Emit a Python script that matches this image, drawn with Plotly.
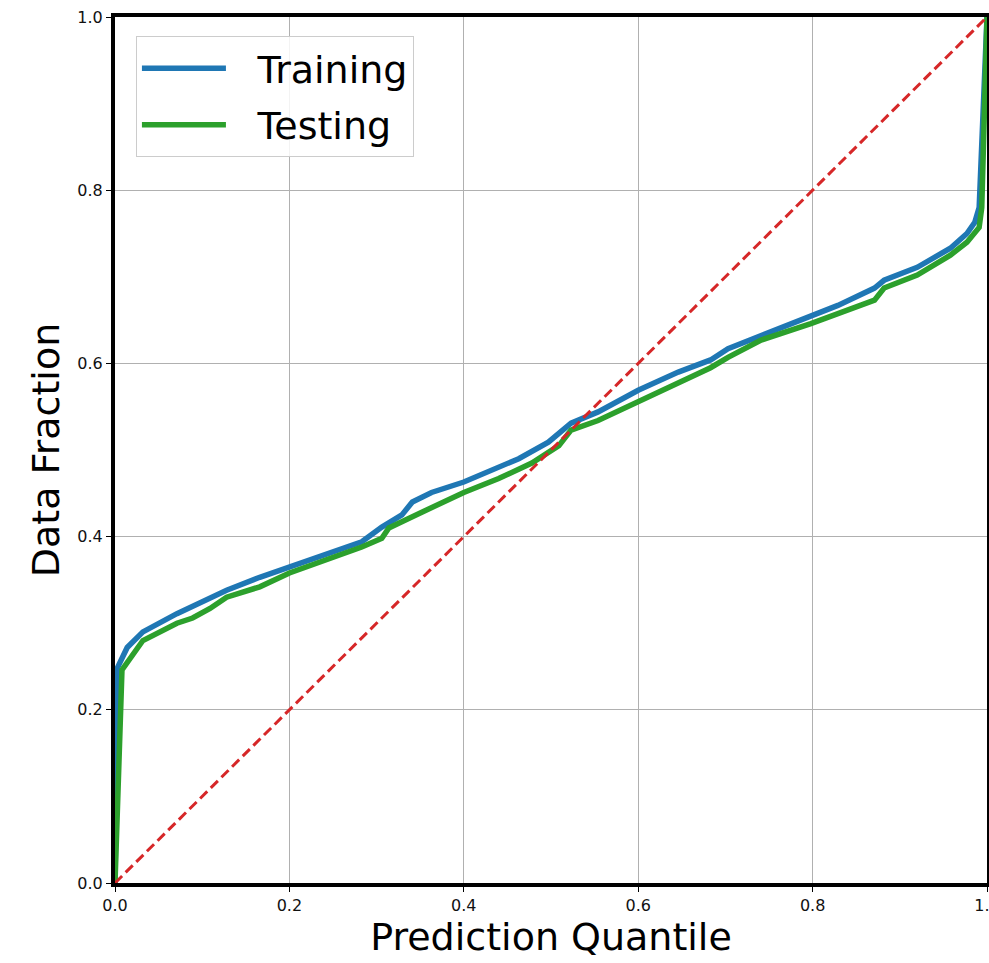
import plotly.graph_objects as go

# Cumulative fraction of data vs. predicted quantile
train_x = [0.0, 0.003, 0.014, 0.032, 0.071, 0.109, 0.128, 0.166, 0.200, 0.242,
           0.283, 0.306, 0.329, 0.341, 0.363, 0.400, 0.440, 0.463, 0.497, 0.523,
           0.554, 0.600, 0.646, 0.683, 0.703, 0.741, 0.798, 0.829, 0.871, 0.882,
           0.920, 0.958, 0.977, 0.986, 0.991, 1.0]
train_y = [0.0, 0.249, 0.272, 0.290, 0.311, 0.329, 0.338, 0.353, 0.365, 0.379,
           0.394, 0.411, 0.425, 0.440, 0.451, 0.463, 0.480, 0.490, 0.509, 0.531,
           0.544, 0.569, 0.590, 0.604, 0.617, 0.632, 0.655, 0.667, 0.687, 0.696,
           0.711, 0.733, 0.750, 0.763, 0.780, 1.0]

test_x = [0.0, 0.008, 0.032, 0.071, 0.089, 0.109, 0.128, 0.146, 0.166, 0.200,
          0.242, 0.283, 0.306, 0.314, 0.341, 0.363, 0.400, 0.440, 0.478, 0.509,
          0.523, 0.554, 0.592, 0.600, 0.611, 0.683, 0.703, 0.741, 0.798, 0.829,
          0.871, 0.882, 0.920, 0.958, 0.977, 0.991, 0.994, 1.0]
test_y = [0.0, 0.246, 0.280, 0.300, 0.306, 0.317, 0.330, 0.335, 0.342, 0.358,
          0.373, 0.388, 0.398, 0.410, 0.423, 0.434, 0.451, 0.467, 0.485, 0.505,
          0.523, 0.534, 0.552, 0.557, 0.561, 0.595, 0.607, 0.627, 0.646, 0.658,
          0.673, 0.687, 0.702, 0.725, 0.740, 0.757, 0.780, 1.0]

ideal = [0.0, 1.0]
tick_vals = [0.0, 0.2, 0.4, 0.6, 0.8, 1.0]
tick_text = ["0.0", "0.2", "0.4", "0.6", "0.8", "1.0"]

FONT = "DejaVu Sans"
PAD = "\u2002\u2009"  # gap between legend line sample and label

fig = go.Figure()
fig.add_trace(go.Scatter(x=train_x, y=train_y, mode="lines", name=PAD + "Training",
                         legendgroup="train",
                         line=dict(color="#1f77b4", width=5.5)))
fig.add_trace(go.Scatter(x=test_x, y=test_y, mode="lines", name=PAD + "Testing",
                         legendgroup="test",
                         line=dict(color="#2ca02c", width=5.5)))
fig.add_trace(go.Scatter(x=ideal, y=ideal, mode="lines", showlegend=False,
                         line=dict(color="#d62728", width=3, dash="10px,5px")))

axis_common = dict(
    range=[0, 1], tickvals=tick_vals, ticktext=tick_text,
    showgrid=True, gridcolor="#b0b0b0", gridwidth=1, zeroline=False,
    showline=True, linecolor="black", linewidth=4, mirror=True,
    ticks="outside", ticklen=5, tickwidth=1, tickcolor="black",
    tickfont=dict(family=FONT, size=16, color="#111111"),
    ticklabeloverflow="allow",
    automargin=False,
)

fig.update_layout(
    width=989, height=963,
    margin=dict(l=115, r=2, t=17, b=80),
    paper_bgcolor="white", plot_bgcolor="white",
    font=dict(family=FONT),
    xaxis=dict(**axis_common,
               title=dict(text="Prediction Quantile", standoff=9,
                          font=dict(family=FONT, size=38, color="black"))),
    yaxis=dict(**axis_common,
               title=dict(text="Data Fraction", standoff=7,
                          font=dict(family=FONT, size=38, color="black"))),
    legend=dict(x=0.024, y=0.978, xanchor="left", yanchor="top",
                bgcolor="rgba(255,255,255,0.85)", bordercolor="#cccccc",
                borderwidth=1, font=dict(family=FONT, size=38, color="black"),
                itemwidth=84, traceorder="grouped", tracegroupgap=4),
)

fig.write_html("out.html")
